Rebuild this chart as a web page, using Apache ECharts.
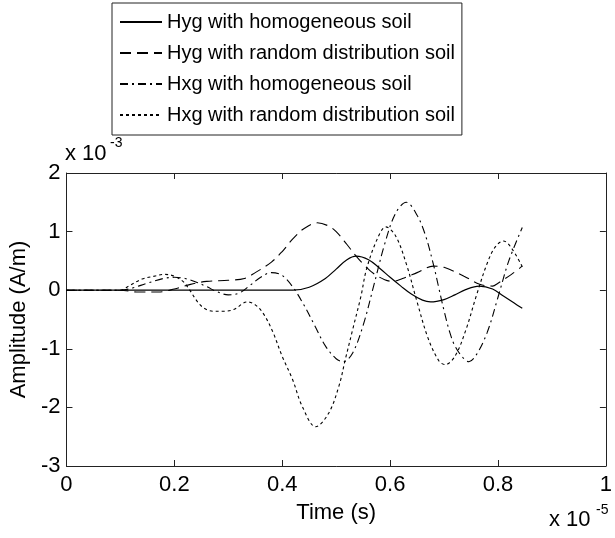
<!DOCTYPE html>
<html>
<head>
<meta charset="utf-8">
<script src="https://cdn.jsdelivr.net/npm/echarts@6/dist/echarts.min.js"></script>
<style>html,body{margin:0;padding:0;background:#fff}#c{width:615px;height:538px}</style>
</head>
<body>
<div id="c"></div>
<script>
// time in units of 1e-5 s, amplitude in units of 1e-3 A/m
var seriesNames = ['Hyg with homogeneous soil', 'Hyg with random distribution soil', 'Hxg with homogeneous soil', 'Hxg with random distribution soil'];
var xTicks = [0, 0.2, 0.4, 0.6, 0.8, 1];
var yTicks = [-3, -2, -1, 0, 1, 2];

var tHygHom = [0, 0.42, 0.45, 0.48, 0.5, 0.52, 0.537, 0.56, 0.58, 0.6, 0.62, 0.64, 0.66, 0.675, 0.7, 0.72, 0.74, 0.765, 0.79, 0.81, 0.83, 0.845];
var vHygHom = [0, 0, 0.05, 0.2, 0.36, 0.52, 0.58, 0.52, 0.38, 0.22, 0.07, -0.07, -0.17, -0.2, -0.16, -0.08, 0.01, 0.07, 0.02, -0.1, -0.22, -0.31];

var tHygRand = [0, 0.1, 0.13, 0.17, 0.2, 0.23, 0.26, 0.3, 0.33, 0.35, 0.38, 0.4, 0.42, 0.44, 0.465, 0.485, 0.5, 0.52, 0.537, 0.553, 0.57, 0.59, 0.605, 0.623, 0.65, 0.68, 0.7, 0.737, 0.766, 0.79, 0.8, 0.825, 0.845];
var vHygRand = [0, 0, -0.03, -0.03, 0.02, 0.1, 0.15, 0.17, 0.2, 0.3, 0.48, 0.66, 0.88, 1.05, 1.15, 1.1, 1.0, 0.78, 0.58, 0.42, 0.28, 0.18, 0.15, 0.2, 0.3, 0.41, 0.39, 0.24, 0.1, 0.07, 0.12, 0.27, 0.41];

var tHxgHom = [0, 0.1, 0.12, 0.15, 0.18, 0.2, 0.22, 0.24, 0.26, 0.28, 0.3, 0.32, 0.34, 0.36, 0.38, 0.4, 0.42, 0.44, 0.46, 0.48, 0.5, 0.513, 0.53, 0.55, 0.57, 0.59, 0.61, 0.63, 0.65, 0.665, 0.68, 0.69, 0.7, 0.71, 0.72, 0.735, 0.746, 0.76, 0.78, 0.8, 0.82, 0.845];
var vHxgHom = [0, 0, 0.03, 0.12, 0.2, 0.22, 0.2, 0.14, 0.06, -0.03, -0.08, -0.05, 0.08, 0.22, 0.3, 0.25, 0.05, -0.25, -0.6, -0.95, -1.17, -1.22, -1.08, -0.6, 0.09, 0.79, 1.31, 1.5, 1.28, 0.95, 0.45, 0.05, -0.35, -0.7, -0.95, -1.15, -1.22, -1.1, -0.72, -0.12, 0.5, 1.07];

var tHxgRand = [0, 0.1, 0.115, 0.14, 0.163, 0.181, 0.2, 0.216, 0.225, 0.25, 0.273, 0.29, 0.31, 0.335, 0.35, 0.365, 0.382, 0.4, 0.419, 0.437, 0.462, 0.486, 0.505, 0.517, 0.532, 0.546, 0.556, 0.575, 0.592, 0.61, 0.63, 0.65, 0.67, 0.69, 0.702, 0.72, 0.74, 0.76, 0.78, 0.795, 0.81, 0.825, 0.845];
var vHxgRand = [0, 0, 0.07, 0.19, 0.24, 0.27, 0.24, 0.15, 0.05, -0.27, -0.36, -0.36, -0.33, -0.2, -0.25, -0.4, -0.7, -1.13, -1.52, -1.98, -2.33, -2.1, -1.64, -1.18, -0.62, -0.1, 0.35, 0.85, 1.08, 0.93, 0.45, -0.2, -0.81, -1.2, -1.27, -1.13, -0.69, -0.09, 0.46, 0.74, 0.84, 0.72, 0.4];

function pairs(t, v) { return t.map(function (x, i) { return [x, v[i]]; }); }

var FONT = 'Arial, "Liberation Sans", sans-serif';
var chart = echarts.init(document.getElementById('c'), null, {renderer: 'canvas'});

var styles = [
  {type: 'solid', width: 1.2},
  {type: [11, 6], width: 1.1},
  {type: [8, 4, 2, 4], width: 1.1},
  {type: [3, 3], width: 1.1}
];
var dataSets = [pairs(tHygHom, vHygHom), pairs(tHygRand, vHygRand), pairs(tHxgHom, vHxgHom), pairs(tHxgRand, vHxgRand)];

var series = seriesNames.map(function (n, i) {
  return {
    name: n, type: 'line', data: dataSets[i], showSymbol: false, symbol: 'none',
    smooth: 0.35, xAxisIndex: 0, yAxisIndex: 0,
    lineStyle: {color: '#000', width: styles[i].width, type: styles[i].type},
    itemStyle: {color: '#000'}
  };
});

var axisCommon = {
  axisLine: {show: true, onZero: false, lineStyle: {color: '#222', width: 1}},
  axisTick: {show: true, inside: true, length: 6, lineStyle: {color: '#222'}},
  splitLine: {show: false}
};

chart.setOption({
  animation: false,
  backgroundColor: '#fff',
  grid: {left: 64, top: 173, width: 547, height: 293, containLabel: false},
  legend: {
    orient: 'vertical', left: 112, top: 3,
    data: seriesNames,
    itemWidth: 42, itemHeight: 14, itemGap: 11,
    padding: [9, 7, 10, 7],
    borderColor: '#222', borderWidth: 1,
    itemStyle: {opacity: 0, borderWidth: 0},
    textStyle: {fontFamily: FONT, fontSize: 20, color: '#000', lineHeight: 20, padding: [0, 0, 0, 0]},
    selectedMode: false
  },
  xAxis: [
    Object.assign({type: 'value', min: 0, max: 1, interval: 0.2, position: 'bottom',
      name: 'Time (s)', nameLocation: 'middle', nameGap: 36,
      nameTextStyle: {fontFamily: FONT, fontSize: 22, color: '#000'},
      axisLabel: {fontFamily: FONT, fontSize: 22, color: '#000', margin: 8}}, axisCommon),
    Object.assign({type: 'value', min: 0, max: 1, interval: 0.2, position: 'top',
      axisLabel: {show: false}}, axisCommon)
  ],
  yAxis: [
    Object.assign({type: 'value', min: -3, max: 2, interval: 1, position: 'left',
      name: 'Amplitude (A/m)', nameLocation: 'middle', nameGap: 36,
      nameTextStyle: {fontFamily: FONT, fontSize: 22, color: '#000'},
      axisLabel: {fontFamily: FONT, fontSize: 22, color: '#000', margin: 6}}, axisCommon),
    Object.assign({type: 'value', min: -3, max: 2, interval: 1, position: 'right',
      axisLabel: {show: false}}, axisCommon)
  ],
  graphic: [
    {type: 'text', left: 65, top: 143, style: {text: 'x 10', fontFamily: FONT, fontSize: 22, fill: '#000'}},
    {type: 'text', left: 110, top: 136, style: {text: '-3', fontFamily: FONT, fontSize: 14, fill: '#000'}},
    {type: 'text', left: 549, top: 509, style: {text: 'x 10', fontFamily: FONT, fontSize: 22, fill: '#000'}},
    {type: 'text', left: 596, top: 503, style: {text: '-5', fontFamily: FONT, fontSize: 14, fill: '#000'}}
  ],
  series: series
});
</script>
</body>
</html>
